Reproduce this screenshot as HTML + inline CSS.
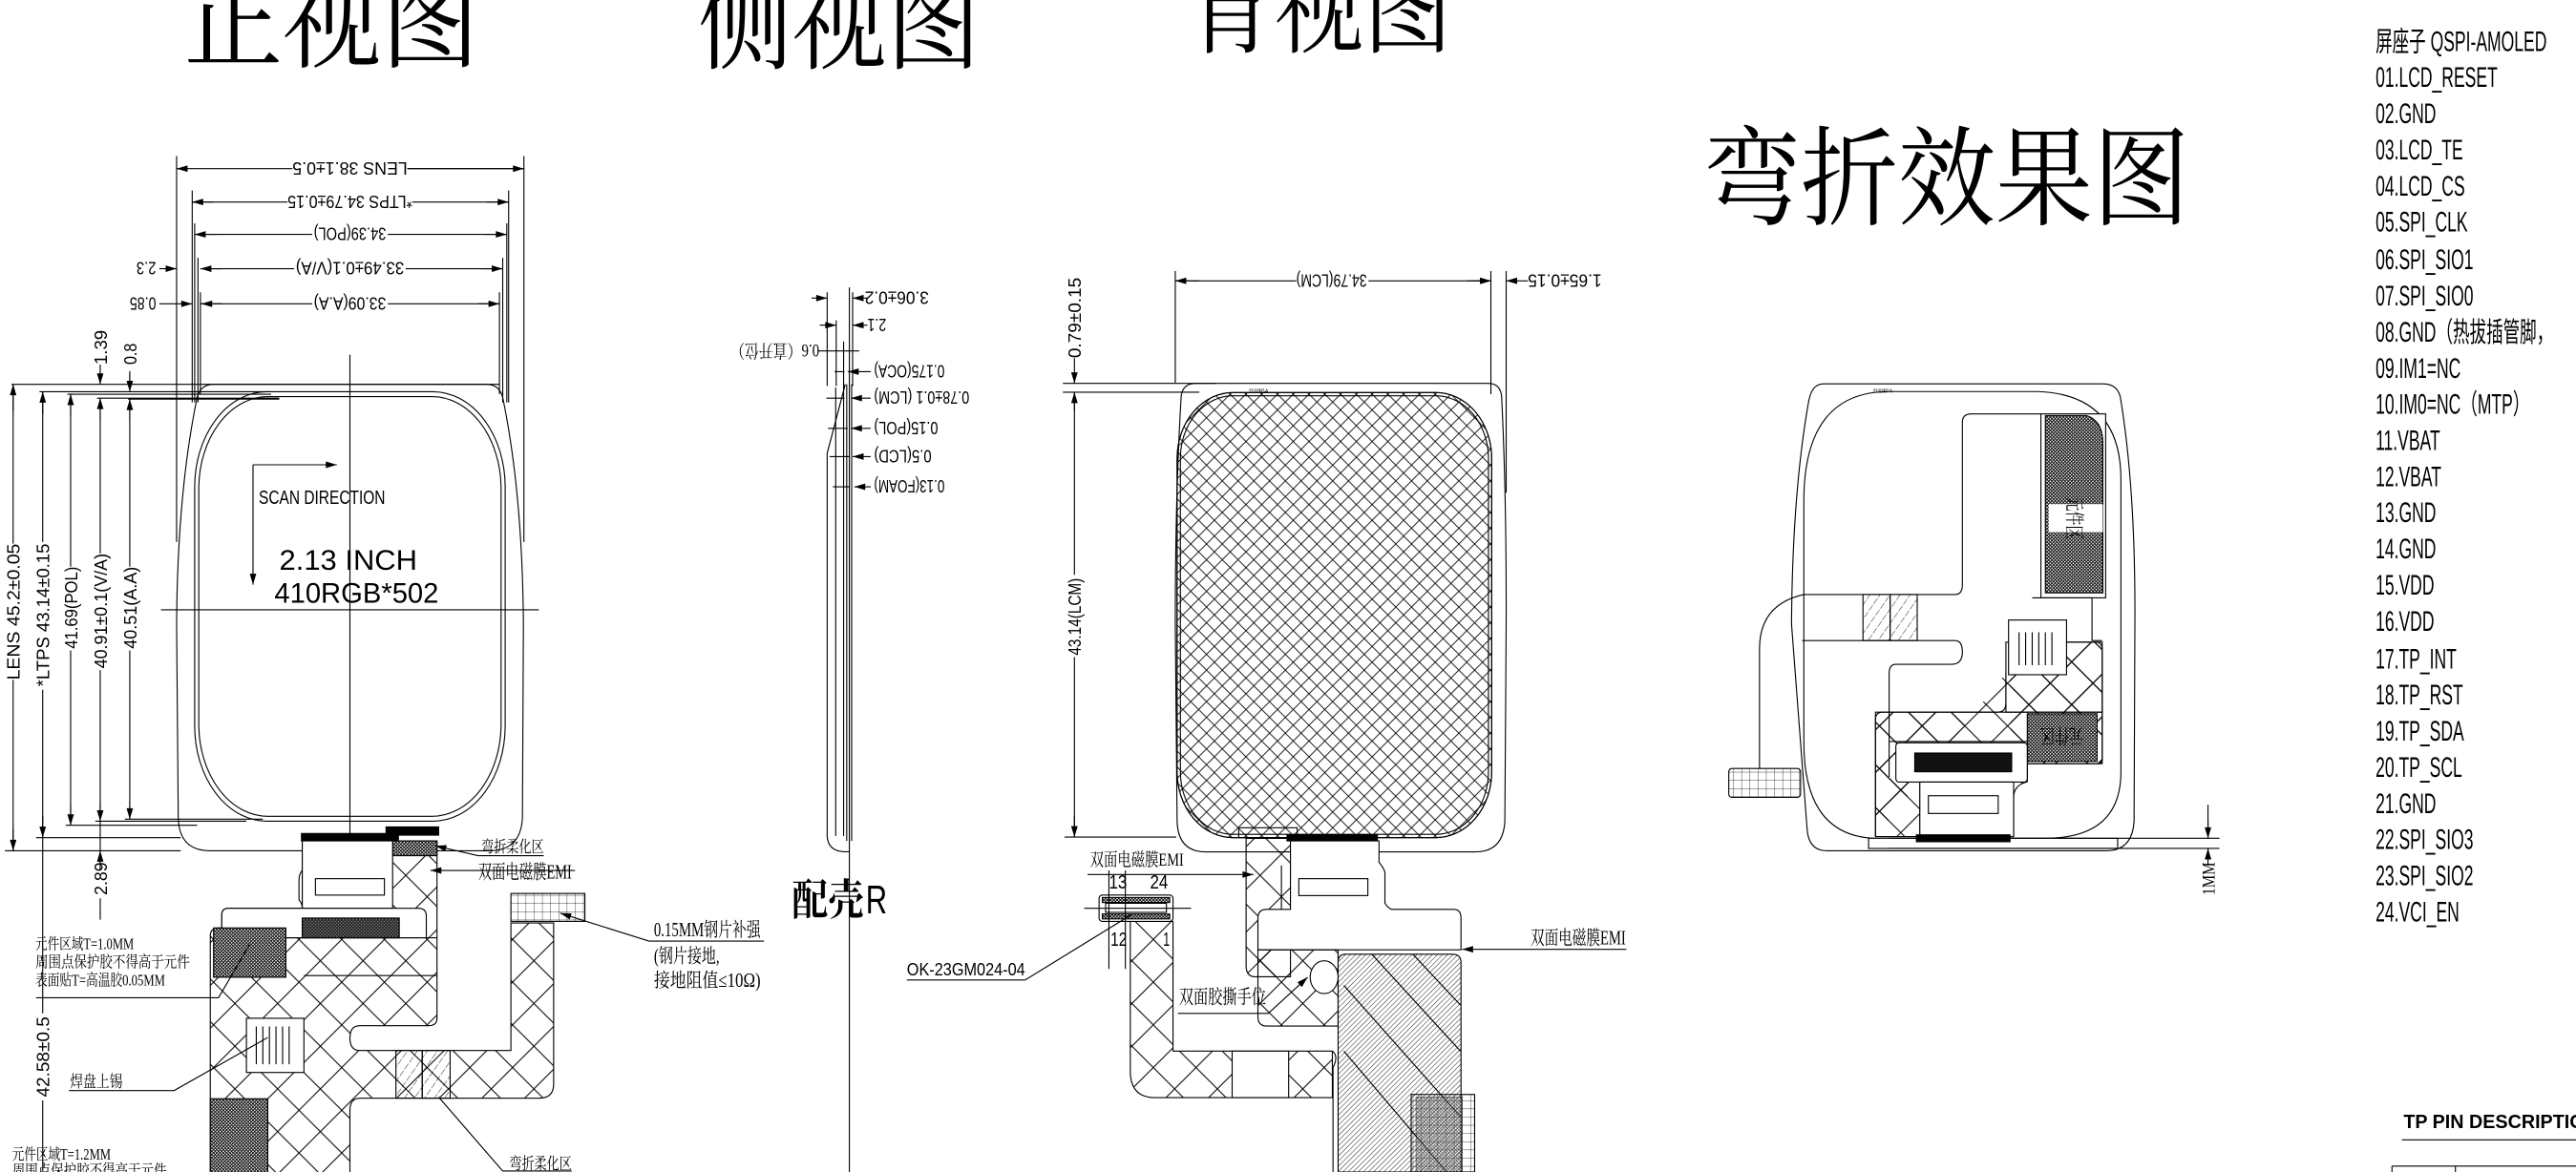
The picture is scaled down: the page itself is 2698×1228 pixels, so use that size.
<!DOCTYPE html>
<html><head><meta charset="utf-8"><style>
html,body{margin:0;padding:0;background:#fff;}
svg{display:block;}
text{font-family:"Liberation Sans","Noto Sans CJK SC",sans-serif;fill:#000;}
.cn{font-family:"Liberation Serif","Noto Serif CJK SC",serif;}
.mono{font-family:"Liberation Mono","Noto Serif CJK SC",monospace;}
</style></head><body>
<svg width="2698" height="1228" viewBox="0 0 1568 713.6" preserveAspectRatio="none" xmlns="http://www.w3.org/2000/svg">
<defs>
<marker id="ar" viewBox="0 0 10 6" refX="10" refY="3" markerWidth="7" markerHeight="4" orient="auto-start-reverse" markerUnits="userSpaceOnUse"><path d="M0,0 L10,3 L0,6 Z" fill="#000"/></marker>
<pattern id="xb" width="26" height="26" patternUnits="userSpaceOnUse"><path d="M0,0 L26,26 M26,0 L0,26" stroke="#000" stroke-width="0.6" fill="none"/></pattern>
<pattern id="xs" width="9.6" height="9.6" patternUnits="userSpaceOnUse"><path d="M0,0 L9.6,9.6 M9.6,0 L0,9.6" stroke="#000" stroke-width="0.5" fill="none"/></pattern>
<pattern id="dk" width="2" height="2" patternUnits="userSpaceOnUse"><rect width="2" height="2" fill="#fff"/><path d="M0,0 L2,2 M2,0 L0,2" stroke="#000" stroke-width="0.55"/></pattern>
<pattern id="dg" width="2.2" height="2.2" patternUnits="userSpaceOnUse" patternTransform="rotate(45)"><rect width="2.2" height="2.2" fill="#fff"/><line x1="0" y1="0" x2="0" y2="2.2" stroke="#000" stroke-width="0.5"/></pattern>
<pattern id="st" width="5" height="5" patternUnits="userSpaceOnUse" patternTransform="rotate(35)"><line x1="0" y1="0" x2="0" y2="5" stroke="#000" stroke-width="0.5" stroke-dasharray="2 1"/></pattern>
<pattern id="gr" width="5" height="5" patternUnits="userSpaceOnUse"><path d="M0,0 H5 M0,0 V5" stroke="#000" stroke-width="0.4" fill="none"/></pattern>
</defs>
<g fill="none" stroke="#000" stroke-width="0.65">

<!-- TITLES -->
<g stroke="none">
<text class="cn" x="112" y="36" font-size="66" textLength="180" lengthAdjust="spacingAndGlyphs">正视图</text>
<text class="cn" x="425" y="37" font-size="66" textLength="172" lengthAdjust="spacingAndGlyphs">侧视图</text>
<text class="cn" x="722" y="27" font-size="66" textLength="162" lengthAdjust="spacingAndGlyphs">背视图</text>
<text class="cn" x="1037" y="132" font-size="66" textLength="296" lengthAdjust="spacingAndGlyphs">弯折效果图</text>
</g>

<!-- ================= FRONT VIEW ================= -->
<!-- extension lines -->
<path d="M107.5,95 V330 M318.9,95 V330 M117,116 V245 M309.6,116 V245 M118.5,136 V245 M308.5,136 V245 M120.5,157 V245 M306,157 V245 M122,178 V240 M304,178 V240"/>
<!-- horizontal dims -->
<path d="M107.5,102.7 H178 M248,102.7 H318.9" marker-start="url(#ar)" />
<path d="M318.9,102.7 H248" marker-start="url(#ar)"/>
<path d="M117,123 H175 M251,123 H309.6"/>
<path d="M117,123 h1 M309.6,123 h-1" />
<path d="M130,123 H117" marker-end="url(#ar)"/><path d="M296,123 H309.6" marker-end="url(#ar)"/>
<path d="M118.5,142.7 H190 M236,142.7 H308.5"/>
<path d="M132,142.7 H118.5" marker-end="url(#ar)"/><path d="M295,142.7 H308.5" marker-end="url(#ar)"/>
<path d="M122,163.6 H179 M247,163.6 H306"/>
<path d="M135,163.6 H122" marker-end="url(#ar)"/><path d="M293,163.6 H306" marker-end="url(#ar)"/>
<path d="M97,163.6 H107.5" marker-end="url(#ar)"/>
<path d="M122,185 H190 M236,185 H304"/>
<path d="M135,185 H122.5" marker-end="url(#ar)"/><path d="M291,185 H304" marker-end="url(#ar)"/>
<path d="M97,185 H117" marker-end="url(#ar)"/>
<g stroke="none" font-size="11">
<text transform="translate(213,102.7) rotate(180)" x="-35" y="4" textLength="70" lengthAdjust="spacingAndGlyphs">LENS 38.1±0.5</text>
<text transform="translate(213,123) rotate(180)" x="-38" y="4" textLength="76" lengthAdjust="spacingAndGlyphs">*LTPS 34.79±0.15</text>
<text transform="translate(213,142.7) rotate(180)" x="-22" y="4" textLength="44" lengthAdjust="spacingAndGlyphs">34.39(POL)</text>
<text transform="translate(213,163.6) rotate(180)" x="-33" y="4" textLength="66" lengthAdjust="spacingAndGlyphs">33.49±0.1(V/A)</text>
<text transform="translate(213,185) rotate(180)" x="-22" y="4" textLength="44" lengthAdjust="spacingAndGlyphs">33.09(A.A)</text>
<text transform="translate(89,163.6) rotate(180)" x="-6" y="4" textLength="12" lengthAdjust="spacingAndGlyphs">2.3</text>
<text transform="translate(87,185) rotate(180)" x="-8" y="4" textLength="16" lengthAdjust="spacingAndGlyphs">0.85</text>
</g>
<!-- horizontal extension lines left -->
<path d="M7,234 H304 M24,238.5 H165 M41,240 H165 M59,242.4 H170 M78,243 H170"/>
<!-- vertical dims left -->
<path d="M8,234 V331 M8,414 V518"/>
<path d="M8,250 V234" marker-end="url(#ar)"/><path d="M8,505 V518" marker-end="url(#ar)"/>
<path d="M26,238.5 V330 M26,420 V617 M26,670 V713"/>
<path d="M26,252 V238.5" marker-end="url(#ar)"/><path d="M26,497 V510" marker-end="url(#ar)"/>
<path d="M43,240 V345 M43,396 V502.5"/>
<path d="M43,253 V240" marker-end="url(#ar)"/><path d="M43,490 V502.5" marker-end="url(#ar)"/>
<path d="M61,222 V234 M61,242.4 V337 M61,408 V523 M61,547 V560"/>
<path d="M61,226 V234" marker-end="url(#ar)"/><path d="M61,255 V242.4" marker-end="url(#ar)"/>
<path d="M61,488 V500" marker-end="url(#ar)"/><path d="M61,530 V518" marker-end="url(#ar)"/>
<path d="M79,226 V234" /><path d="M79,228 V238.5" marker-end="url(#ar)"/><path d="M79,256 V243" marker-end="url(#ar)"/>
<path d="M79,243 V345 M79,396 V498.8"/><path d="M79,488 V498.8" marker-end="url(#ar)"/>
<path d="M3,518 H110 M22,510 H110 M40,502.5 H120 M58,500 H150 M76,498.8 H160"/>
<g stroke="none" font-size="11">
<text transform="translate(12,414) rotate(-90)" textLength="83" lengthAdjust="spacingAndGlyphs">LENS 45.2±0.05</text>
<text transform="translate(30,418) rotate(-90)" textLength="87" lengthAdjust="spacingAndGlyphs">*LTPS 43.14±0.15</text>
<text transform="translate(47,395) rotate(-90)" textLength="50" lengthAdjust="spacingAndGlyphs">41.69(POL)</text>
<text transform="translate(65,407) rotate(-90)" textLength="70" lengthAdjust="spacingAndGlyphs">40.91±0.1(V/A)</text>
<text transform="translate(83,395) rotate(-90)" textLength="50" lengthAdjust="spacingAndGlyphs">40.51(A.A)</text>
<text transform="translate(65,222) rotate(-90)" textLength="21" lengthAdjust="spacingAndGlyphs">1.39</text>
<text transform="translate(83,222) rotate(-90)" textLength="13" lengthAdjust="spacingAndGlyphs">0.8</text>
<text transform="translate(65,545) rotate(-90)" textLength="20" lengthAdjust="spacingAndGlyphs">2.89</text>
<text transform="translate(30,668) rotate(-90)" textLength="49" lengthAdjust="spacingAndGlyphs">42.58±0.5</text>
</g>
<!-- body -->
<path d="M130,234 L296,234 Q304,234 306,242 Q318,300 318.6,380 L318,498 Q317,518 298,518 L128,518 Q109,518 108.5,498 L107.5,380 Q108,300 120,242 Q122,234 130,234 Z"/>
<rect x="118.5" y="238.5" width="189" height="261.5" rx="44" ry="58"/>
<rect x="121" y="241.5" width="184" height="255.5" rx="42" ry="56"/>
<path d="M98,371.3 H328"/>
<path d="M213,216 V526"/>
<path d="M154,283 H205" marker-end="url(#ar)"/>
<path d="M154,283 V356" marker-end="url(#ar)"/>
<g stroke="none">
<text x="157.5" y="306.7" font-size="12" textLength="77" lengthAdjust="spacingAndGlyphs">SCAN DIRECTION</text>
<text x="170" y="347" font-size="17" textLength="84" lengthAdjust="spacingAndGlyphs" style="font-weight:300">2.13 INCH</text>
<text x="167" y="367" font-size="17" textLength="100" lengthAdjust="spacingAndGlyphs">410RGB*502</text>
</g>
<!-- front FPC -->
<rect x="183.5" y="507.5" width="59" height="4.5" fill="#000"/>
<rect x="235" y="503.5" width="32" height="5" fill="#000"/>
<path d="M133,565 L135,565 L135,557 Q135,553 139,553 L184,553 L184,512 L266,512 L266,620 Q266,624.5 261,624.5 L219,624.5 Q213,624.5 213,632 Q213,639.6 219,639.6 L311,639.6 L311,562 L337,562 L337,660 Q337,668.7 328,668.7 L219,668.7 Q213,668.7 213,676 L213,714 L128,714 L128,570 Q128,565 133,565 Z" fill="url(#xb)"/>
<rect x="239" y="512" width="27" height="9" fill="url(#dk)"/>
<path d="M184,512 L239,512 L239,553 L184,553 Z" fill="#fff"/>
<path d="M184,530 Q182,532 182,536 L182,548 Q184,550 184,553"/>
<rect x="192" y="535" width="42" height="10" fill="#fff"/>
<path d="M135,571 L135,557 Q135,553 139,553 L255,553 Q259.5,553 259.5,558 L259.5,571 Z" fill="#fff"/>
<path d="M174,571 H266 M185,594 H266"/>
<rect x="184" y="559" width="59" height="12" fill="url(#dk)"/>
<rect x="184" y="559" width="59" height="12" fill="#222" opacity="0.55"/>
<rect x="130" y="565" width="44" height="30" fill="url(#dk)"/>
<rect x="150" y="620" width="35" height="33" fill="#fff"/>
<path d="M156,625 V648 M160,625 V648 M164,625 V648 M168,625 V648 M172,625 V648 M176,625 V648"/>
<rect x="128" y="669" width="35" height="45" fill="url(#dk)"/>
<rect x="241" y="639.6" width="16" height="29" fill="url(#st)"/>
<rect x="257" y="639.6" width="17" height="29" fill="url(#st)"/>
<rect x="311" y="544" width="45" height="17" fill="url(#gr)"/>
<!-- front labels -->
<g stroke="none" font-size="11" class="cn">
<text class="cn" x="293" y="519" font-size="10" textLength="38" lengthAdjust="spacingAndGlyphs">弯折柔化区</text>
<text class="cn" x="291" y="535" font-size="12" textLength="57" lengthAdjust="spacingAndGlyphs">双面电磁膜EMI</text>
<text class="cn" x="398" y="570" font-size="12" textLength="65" lengthAdjust="spacingAndGlyphs">0.15MM钢片补强</text>
<text class="cn" x="398" y="586" font-size="12" textLength="40" lengthAdjust="spacingAndGlyphs">(钢片接地,</text>
<text class="cn" x="398" y="601" font-size="12" textLength="65" lengthAdjust="spacingAndGlyphs">接地阻值≤10Ω)</text>
<text class="cn" x="21.5" y="578" font-size="9.5" textLength="60" lengthAdjust="spacingAndGlyphs">元件区域T=1.0MM</text>
<text class="cn" x="21.5" y="589" font-size="9.5" textLength="94" lengthAdjust="spacingAndGlyphs">周围点保护胶不得高于元件</text>
<text class="cn" x="21.5" y="600" font-size="9.5" textLength="79" lengthAdjust="spacingAndGlyphs">表面贴T=高温胶0.05MM</text>
<text class="cn" x="42.6" y="662" font-size="10" textLength="32" lengthAdjust="spacingAndGlyphs">焊盘上锡</text>
<text class="cn" x="7.4" y="706" font-size="9.5" textLength="60" lengthAdjust="spacingAndGlyphs">元件区域T=1.2MM</text>
<text class="cn" x="7.4" y="716" font-size="9.5" textLength="94" lengthAdjust="spacingAndGlyphs">周围点保护胶不得高于元件</text>
<text class="cn" x="310" y="712" font-size="10" textLength="38" lengthAdjust="spacingAndGlyphs">弯折柔化区</text>
<text class="cn" x="482" y="557" font-size="26" font-weight="bold" textLength="44" lengthAdjust="spacingAndGlyphs">配壳</text>
<text x="527" y="556" font-size="24" textLength="13" lengthAdjust="spacingAndGlyphs" style="font-weight:100">R</text>
</g>
<path d="M291,521 L265,515" marker-end="url(#ar)"/><path d="M291,521 H331"/>
<path d="M350,530 H262" marker-end="url(#ar)"/>
<path d="M465,573 H395 L341,556" marker-end="url(#ar)"/>
<path d="M22,607.5 H133 L152,575" />
<path d="M42,664 H106 L163,631.7"/>
<path d="M348,713 H306 L267,668"/>

<!-- ================= SIDE VIEW ================= -->
<path d="M517,175 V713.6"/>
<path d="M503.5,178 V235 M519,178 V235 M509,195 V235 M513.5,208 V235"/>
<path d="M494,181.5 H503.5" marker-end="url(#ar)"/><path d="M528,181.5 H519" marker-end="url(#ar)"/>
<path d="M499,198 H509" marker-end="url(#ar)"/><path d="M528,198 H519" marker-end="url(#ar)"/>
<path d="M498,213.7 H523"/>
<path d="M530,226.3 H516" marker-end="url(#ar)"/><path d="M508,226.3 H514"/>
<path d="M530,242.4 H518" marker-end="url(#ar)"/><path d="M503,242.4 H514"/>
<path d="M530,260.8 H518" marker-end="url(#ar)"/><path d="M504,260.8 H516"/>
<path d="M530,278 H519" marker-end="url(#ar)"/><path d="M505,278 H517"/>
<path d="M530,296.4 H520" marker-end="url(#ar)"/><path d="M507,296.4 H517"/>
<path d="M514.5,234 L503.5,276 L503.5,509 Q504,518 513.5,518.6 L517,518.6"/>
<path d="M508.7,236 V509 M513.5,234 V509 M515.4,234 V512 M518.4,234 V512"/>
<g stroke="none" font-size="11">
<text transform="translate(565.4,181.5) rotate(180)" y="4" textLength="39" lengthAdjust="spacingAndGlyphs">3.06±0.2</text>
<text transform="translate(539.5,198) rotate(180)" y="4" textLength="11.5" lengthAdjust="spacingAndGlyphs">2.1</text>
<text transform="translate(498.7,213.7) rotate(180)" y="4" class="cn" textLength="54" lengthAdjust="spacingAndGlyphs">0.6（直开位）</text>
<text transform="translate(575,226.3) rotate(180)" y="4" textLength="43" lengthAdjust="spacingAndGlyphs">0.175(OCA)</text>
<text transform="translate(590,242.4) rotate(180)" y="4" textLength="58" lengthAdjust="spacingAndGlyphs">0.78±0.1 (LCM)</text>
<text transform="translate(571,260.8) rotate(180)" y="4" textLength="39" lengthAdjust="spacingAndGlyphs">0.15(POL)</text>
<text transform="translate(567,278) rotate(180)" y="4" textLength="35" lengthAdjust="spacingAndGlyphs">0.5(LCD)</text>
<text transform="translate(575,296.4) rotate(180)" y="4" textLength="43" lengthAdjust="spacingAndGlyphs">0.13(FOAM)</text>
</g>

<!-- ================= BACK VIEW ================= -->
<path d="M715.4,165 V233 M907.5,165 V240 M916.8,165 V300"/>
<path d="M715.4,171 H789 M833,171 H907.5"/>
<path d="M730,171 H715.4" marker-end="url(#ar)"/><path d="M893,171 H907.5" marker-end="url(#ar)"/>
<path d="M897,171 H907.5" /><path d="M930,171 H916.8" marker-end="url(#ar)"/><path d="M900,171 H907.5" marker-end="url(#ar)"/>
<path d="M647,233.4 H740 M647,238.8 H730 M648,509.7 H716"/>
<path d="M654,218 V233.4" marker-end="url(#ar)"/>
<path d="M654,250 V238.8" marker-end="url(#ar)"/><path d="M654,238.8 V350 M654,400 V509.7"/><path d="M654,497 V509.7" marker-end="url(#ar)"/>
<g stroke="none" font-size="11">
<text transform="translate(832,171) rotate(180)" y="4" textLength="43" lengthAdjust="spacingAndGlyphs">34.79(LCM)</text>
<text transform="translate(975,171) rotate(180)" y="4" textLength="45" lengthAdjust="spacingAndGlyphs">1.65±0.15</text>
<text transform="translate(658,218) rotate(-90)" textLength="49" lengthAdjust="spacingAndGlyphs">0.79±0.15</text>
<text transform="translate(658,399) rotate(-90)" textLength="47" lengthAdjust="spacingAndGlyphs">43.14(LCM)</text>
</g>
<path d="M728,233.4 L906,233.4 Q913,233.4 914,241 Q917,300 916.8,380 L916,500 Q915,518.7 898,518.7 L734,518.7 Q717,518.7 716.5,500 L715.4,380 Q715.4,300 719,241 Q720,233.4 728,233.4 Z"/>
<rect x="716.5" y="239" width="191.5" height="271" rx="34" ry="40" fill="url(#xs)"/>
<rect x="716.5" y="239" width="191.5" height="271" rx="34" ry="40"/>
<rect x="718.5" y="241" width="187.5" height="267" rx="32" ry="38"/>
<!-- back FPC -->
<rect x="754" y="504" width="35.6" height="6"/>
<rect x="783.4" y="508.5" width="55" height="3.5" fill="#000"/>
<path d="M758.5,510.5 H785.5 V594.7 H764 Q758.5,594.7 758.5,588 Z" fill="url(#xb)"/>
<path d="M780,527 V556"/>
<path d="M785.5,512 H839.4 V525 Q842,528 843,531 V550 Q845,553 847,553.7 H885 Q889.3,553.7 889.3,559 V578.3 H765.7 V559 Q765.7,553.7 771,553.7 H785.5 Z" fill="#fff"/>
<rect x="790.6" y="535" width="42" height="10.3"/>
<path d="M765.7,578.3 H814.5 V624.7 H771 Q765.7,624.7 765.7,619 Z" fill="url(#xb)"/>
<path d="M814.5,713.6 V586 Q814.5,581 819,581 L884,581 Q889.3,581 889.3,586 V713.6 Z" fill="url(#dg)"/>
<path d="M818,600 L889,680 M818,640 L880,713 M835,581 L889,640 M860,581 L889,612"/>
<ellipse cx="806" cy="595" rx="8.5" ry="10" fill="#fff"/>
<path d="M688,561 H714 V640 H811 V668.3 H703 Q688,668.3 688,652 Z" fill="url(#xb)"/>
<path d="M811,640 Q815,643 811.4,650 V713.6"/>
<rect x="750" y="640" width="34.4" height="28.3" fill="#fff"/>
<rect x="859" y="666.4" width="38.6" height="47.2" fill="url(#gr)"/>
<rect x="862" y="668" width="28" height="45.6" fill="url(#dk)" opacity="0.5"/>
<rect x="669" y="545" width="45" height="16" rx="2" fill="#fff"/>
<rect x="671" y="546.5" width="41" height="3" fill="url(#dk)"/>
<rect x="671" y="556.5" width="41" height="3" fill="url(#dk)"/>
<path d="M673,550 H710 V555.5 H673 Z"/>
<path d="M660,553 H725 M675,530 V590 M685,530 V590"/>
<g stroke="none">
<text x="675" y="541" font-size="12" textLength="11" lengthAdjust="spacingAndGlyphs">13</text>
<text x="700" y="541" font-size="12" textLength="11" lengthAdjust="spacingAndGlyphs">24</text>
<text x="676" y="576" font-size="12" textLength="10" lengthAdjust="spacingAndGlyphs">12</text>
<text x="708" y="576" font-size="12" textLength="4" lengthAdjust="spacingAndGlyphs">1</text>
<text class="cn" x="663.5" y="527" font-size="11" textLength="57" lengthAdjust="spacingAndGlyphs">双面电磁膜EMI</text>
<text x="552" y="594" font-size="11" textLength="72" lengthAdjust="spacingAndGlyphs">OK-23GM024-04</text>
<text class="cn" x="717.6" y="611" font-size="12" textLength="53" lengthAdjust="spacingAndGlyphs">双面胶撕手位</text>
<text class="cn" x="931.6" y="575" font-size="12" textLength="58" lengthAdjust="spacingAndGlyphs">双面电磁膜EMI</text>
<text x="760" y="239" font-size="3" textLength="12">2131087-A</text>
<text x="1140" y="239" font-size="3" textLength="12">2131087-A</text>
</g>
<path d="M662,532.5 H763" marker-end="url(#ar)"/>
<path d="M552,596.7 H624 L688.7,556.9"/>
<path d="M717,617 H772 L796,595" marker-end="url(#ar)"/>
<path d="M990,578 H890" marker-end="url(#ar)"/>

<!-- ================= BEND VIEW ================= -->
<path d="M1110,233.7 L1280,233.7 Q1290,233.7 1291,244 Q1300,300 1299.5,380 L1299,500 Q1298,518 1282,518 L1112,518 Q1101,518 1100,505 L1090.5,380 Q1091,300 1101,244 Q1103,233.7 1110,233.7 Z"/>
<path d="M1150,238.4 H1240 Q1291,240 1291,292 V470 Q1291,510.4 1245,510.4 H1140 Q1098,508 1098,452 V305 Q1098,238.4 1150,238.4 Z"/>
<path d="M1098,362 H1190 Q1194.5,362 1194.5,356 V257 Q1194.5,252 1200,252 H1242.3"/>
<rect x="1242.3" y="252" width="39.4" height="112" fill="#fff"/>
<path d="M1245,253 H1270 Q1280,256 1280,270 V361 H1245 Z" fill="url(#dk)"/>
<rect x="1247" y="307" width="33" height="17" fill="#fff" stroke="none"/>
<text class="cn" transform="translate(1263.5,315.5) rotate(90)" x="-13" y="5" font-size="12" textLength="26" lengthAdjust="spacingAndGlyphs" stroke="none">元件区</text>
<rect x="1134" y="362" width="16.5" height="28" fill="url(#st)"/>
<rect x="1150.5" y="362" width="16.5" height="28" fill="url(#st)"/>
<path d="M1097,390 H1190 Q1194.5,390 1194.5,397 Q1194.5,404.5 1188,404.5 H1154 Q1149.9,404.5 1149.9,410 V473"/>
<path d="M1098,362 Q1071,368 1071,395 V467.9"/>
<rect x="1052.3" y="467.9" width="43.7" height="17.6" rx="2" fill="url(#gr)"/>
<path d="M1237,364 H1273.4 Q1273.4,372 1273.4,390 H1279.6"/>
<path d="M1222.6,391 H1276 Q1279.6,391 1279.6,396 V462.6 Q1279.6,465 1276,465 H1234 V476 Q1226,478 1225.7,485 V509.4 M1141.6,509.4 V438 Q1141.6,433.6 1146,433.6 H1216 Q1221,433.6 1221,428 V410" fill="url(#xb)"/>
<path d="M1141.6,433.6 H1279.6 V465 H1168.6 V509.4 H1141.6 Z" fill="url(#xb)"/>
<path d="M1221,391 H1279.6 V433.6 H1221 Z" fill="url(#xb)"/>
<rect x="1234" y="434.6" width="42.5" height="29" fill="url(#dk)"/>
<text class="cn" transform="translate(1255,449) rotate(180)" x="-13" y="5" font-size="12" textLength="26" lengthAdjust="spacingAndGlyphs" stroke="none">元件区</text>
<path d="M1149.9,451.5 H1234"/>
<rect x="1154" y="452.3" width="80" height="23.9" rx="2" fill="#fff"/>
<rect x="1165.5" y="458.5" width="59" height="11.4" fill="#111"/>
<path d="M1168.6,476.2 H1225.7 V509.4 H1168.6 Z" fill="#fff"/>
<rect x="1173.8" y="484.5" width="42.5" height="10.8"/>
<rect x="1222.6" y="377.5" width="35.3" height="33.3" fill="#fff"/>
<path d="M1229,385 V405 M1233,385 V405 M1237,385 V405 M1241,385 V405 M1245,385 V405 M1249,385 V405"/>
<rect x="1137.4" y="510.4" width="151.6" height="6.2" fill="#fff"/>
<rect x="1166.5" y="508.3" width="57" height="4.2" fill="#000"/>
<path d="M1150,510.4 H1351 M1150,516.6 H1351 M1344,490 V510.4 M1344,516.6 V522"/>
<path d="M1344,500 V510.4" marker-end="url(#ar)"/><path d="M1344,527 V516.6" marker-end="url(#ar)"/>
<text transform="translate(1348,545) rotate(-90)" font-size="11" textLength="20" lengthAdjust="spacingAndGlyphs" stroke="none" class="cn">1MM</text>

<!-- ================= PIN LIST ================= -->
<g stroke="none" class="mono" font-size="17">
<g transform="translate(1446,0) scale(0.6,1)">
<text x="0" y="31">屏座子  QSPI-AMOLED</text>
<text x="0" y="53">01.LCD_RESET</text>
<text x="0" y="75">02.GND</text>
<text x="0" y="97">03.LCD_TE</text>
<text x="0" y="119">04.LCD_CS</text>
<text x="0" y="141">05.SPI_CLK</text>
<text x="0" y="164">06.SPI_SIO1</text>
<text x="0" y="186">07.SPI_SIO0</text>
<text x="0" y="208">08.GND（热拔插管脚，</text>
<text x="0" y="230">09.IM1=NC</text>
<text x="0" y="252">10.IM0=NC（MTP）</text>
<text x="0" y="274">11.VBAT</text>
<text x="0" y="296">12.VBAT</text>
<text x="0" y="318">13.GND</text>
<text x="0" y="340">14.GND</text>
<text x="0" y="362">15.VDD</text>
<text x="0" y="384">16.VDD</text>
<text x="0" y="407">17.TP_INT</text>
<text x="0" y="429">18.TP_RST</text>
<text x="0" y="451">19.TP_SDA</text>
<text x="0" y="473">20.TP_SCL</text>
<text x="0" y="495">21.GND</text>
<text x="0" y="517">22.SPI_SIO3</text>
<text x="0" y="539">23.SPI_SIO2</text>
<text x="0" y="561">24.VCI_EN</text>
</g>
<text x="1463" y="687" font-size="12" font-weight="bold" style="font-family:'Liberation Sans',sans-serif" textLength="110" lengthAdjust="spacingAndGlyphs">TP PIN DESCRIPTIO</text>
</g>
<path d="M1462,694 H1568 M1456,710 H1568 M1456,710 V714 M1494.6,710 V714"/>
</g>
</svg>
</body></html>
